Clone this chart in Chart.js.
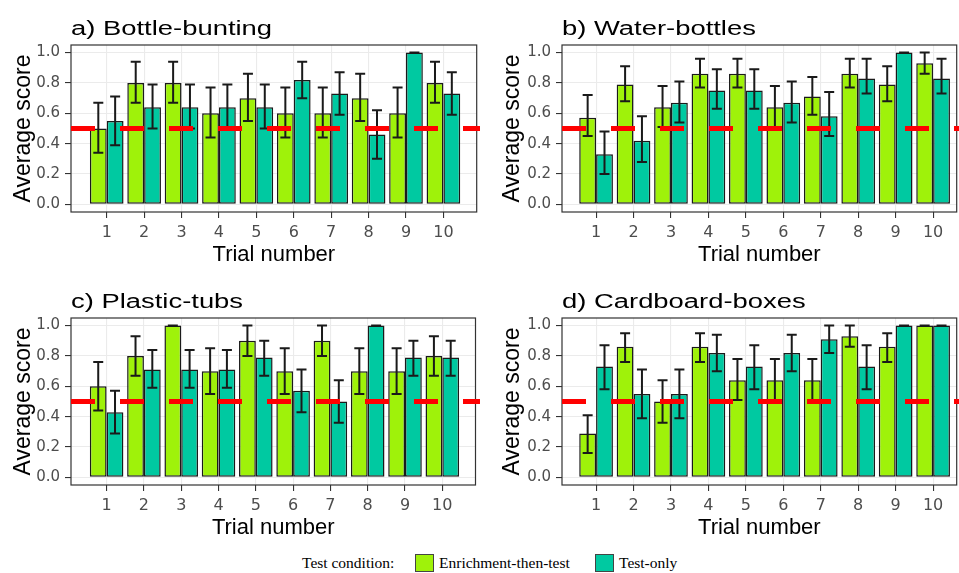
<!DOCTYPE html>
<html>
<head>
<meta charset="utf-8">
<script src="https://cdn.jsdelivr.net/npm/chart.js@4.4.1/dist/chart.umd.min.js"></script>
<style>
  html, body { margin: 0; padding: 0; background: #fff; }
  body { width: 959px; height: 573px; position: relative; overflow: hidden; }
  .panel { position: absolute; height: 270px; }
  .legend { position: absolute; top: 553px; font-family: "Liberation Serif", "Times New Roman", serif; font-size: 15.5px; color: #000; line-height: 19px; }
  .legend-key { position: absolute; top: 554px; width: 17px; height: 16px; border: 1px solid #444; }
</style>
</head>
<body>
  <div class="panel" style="left:0;top:0;width:480px"><canvas id="panel-a"></canvas></div>
  <div class="panel" style="left:480px;top:0;width:479px"><canvas id="panel-b"></canvas></div>
  <div class="panel" style="left:0;top:273px;width:480px"><canvas id="panel-c"></canvas></div>
  <div class="panel" style="left:480px;top:273px;width:479px"><canvas id="panel-d"></canvas></div>

  <span class="legend" style="left:302px">Test condition:</span>
  <span class="legend-key" id="key-enrich" style="left:415px"></span>
  <span class="legend" style="left:439px" id="label-enrich"></span>
  <span class="legend-key" id="key-test" style="left:595px"></span>
  <span class="legend" style="left:619px" id="label-test"></span>

<script>
// ======================================================
// DATA
// ======================================================
const TRIALS = [1, 2, 3, 4, 5, 6, 7, 8, 9, 10];
const Y_MAJOR = [0, 0.2, 0.4, 0.6, 0.8, 1.0];
const Y_MINOR = [0.1, 0.3, 0.5, 0.7, 0.9];
const CHANCE = 0.5;
const SERIES = ['Enrichment-then-test', 'Test-only'];

// a) Bottle-bunting
const bottleEnrich   = [0.50, 0.80, 0.80, 0.60, 0.70, 0.60, 0.60, 0.70, 0.60, 0.80];
const bottleEnrichLo = [0.34, 0.67, 0.67, 0.44, 0.55, 0.44, 0.44, 0.55, 0.44, 0.67];
const bottleEnrichHi = [0.67, 0.94, 0.94, 0.77, 0.86, 0.77, 0.77, 0.86, 0.77, 0.94];
const bottleTest     = [0.55, 0.64, 0.64, 0.64, 0.64, 0.82, 0.73, 0.46, 1.00, 0.73];
const bottleTestLo   = [0.39, 0.50, 0.50, 0.50, 0.50, 0.70, 0.59, 0.30, 1.00, 0.59];
const bottleTestHi   = [0.71, 0.79, 0.79, 0.79, 0.79, 0.94, 0.87, 0.62, 1.00, 0.87];

// b) Water-bottles
const waterEnrich   = [0.57, 0.79, 0.64, 0.86, 0.86, 0.64, 0.71, 0.86, 0.79, 0.93];
const waterEnrichLo = [0.45, 0.68, 0.51, 0.77, 0.77, 0.51, 0.59, 0.77, 0.68, 0.86];
const waterEnrichHi = [0.72, 0.91, 0.78, 0.96, 0.96, 0.78, 0.84, 0.96, 0.91, 1.00];
const waterTest     = [0.33, 0.42, 0.67, 0.75, 0.75, 0.67, 0.58, 0.83, 1.00, 0.83];
const waterTestLo   = [0.20, 0.28, 0.54, 0.63, 0.63, 0.54, 0.45, 0.73, 1.00, 0.73];
const waterTestHi   = [0.48, 0.58, 0.81, 0.89, 0.89, 0.81, 0.74, 0.96, 1.00, 0.96];

// c) Plastic-tubs
const tubsEnrich   = [0.60, 0.80, 1.00, 0.70, 0.90, 0.70, 0.90, 0.70, 0.70, 0.80];
const tubsEnrichLo = [0.44, 0.67, 1.00, 0.55, 0.80, 0.55, 0.80, 0.55, 0.55, 0.67];
const tubsEnrichHi = [0.76, 0.93, 1.00, 0.85, 1.00, 0.85, 1.00, 0.85, 0.85, 0.93];
const tubsTest     = [0.43, 0.71, 0.71, 0.71, 0.79, 0.57, 0.50, 1.00, 0.79, 0.79];
const tubsTestLo   = [0.29, 0.59, 0.59, 0.59, 0.67, 0.43, 0.36, 1.00, 0.67, 0.67];
const tubsTestHi   = [0.57, 0.84, 0.84, 0.84, 0.90, 0.71, 0.64, 1.00, 0.90, 0.90];

// d) Cardboard-boxes
const boxEnrich   = [0.29, 0.86, 0.50, 0.86, 0.64, 0.64, 0.64, 0.93, 0.86, 1.00];
const boxEnrichLo = [0.16, 0.76, 0.36, 0.76, 0.51, 0.51, 0.51, 0.86, 0.76, 1.00];
const boxEnrichHi = [0.41, 0.95, 0.64, 0.95, 0.78, 0.78, 0.78, 1.00, 0.95, 1.00];
const boxTest     = [0.73, 0.55, 0.55, 0.82, 0.73, 0.82, 0.91, 0.73, 1.00, 1.00];
const boxTestLo   = [0.58, 0.39, 0.39, 0.70, 0.58, 0.70, 0.82, 0.58, 1.00, 1.00];
const boxTestHi   = [0.87, 0.71, 0.71, 0.94, 0.87, 0.94, 1.00, 0.87, 1.00, 1.00];

// ======================================================
// STYLE
// ======================================================
const GREEN = '#9FF20A';
const TEAL = '#00C9A1';
const CAP = 5;

Chart.defaults.font.family = '"Liberation Sans", Arial, sans-serif';

const isMajor = v => Y_MAJOR.some(m => Math.abs(m - v) < 1e-6);

// error bars, panel border, dashed chance line, left-aligned panel title
const panelDecor = {
  id: 'panelDecor',
  afterDatasetsDraw(chart) {
    const { ctx, chartArea: a, scales: { y } } = chart;
    ctx.save();
    ctx.strokeStyle = '#1a1a1a';
    ctx.lineWidth = 2;
    chart.data.datasets.forEach((ds, d) => {
      chart.getDatasetMeta(d).data.forEach((bar, i) => {
        const top = y.getPixelForValue(ds.hi[i]);
        const bot = y.getPixelForValue(ds.lo[i]);
        ctx.beginPath();
        ctx.moveTo(bar.x, top); ctx.lineTo(bar.x, bot);
        ctx.moveTo(bar.x - CAP, top); ctx.lineTo(bar.x + CAP, top);
        ctx.moveTo(bar.x - CAP, bot); ctx.lineTo(bar.x + CAP, bot);
        ctx.stroke();
      });
    });
    ctx.strokeStyle = '#333';
    ctx.lineWidth = 1.2;
    ctx.strokeRect(a.left, a.top, a.right - a.left, a.bottom - a.top);

    const yc = y.getPixelForValue(CHANCE);
    ctx.strokeStyle = '#FF0000';
    ctx.lineWidth = 5;
    ctx.setLineDash([24, 25]);
    ctx.beginPath();
    ctx.moveTo(a.left, yc);
    ctx.lineTo(chart.width, yc);
    ctx.stroke();
    ctx.restore();
  },
  afterDraw(chart, args, opts) {
    const { ctx, chartArea: a } = chart;
    ctx.save();
    ctx.font = '20px "Liberation Sans", Arial, sans-serif';
    ctx.fillStyle = '#000';
    ctx.translate(a.left, a.top - 10);
    ctx.scale(1.37, 1);
    ctx.fillText(opts.title, 0, 0);
    ctx.restore();
  }
};

function makeChart(p) {
  const ctx = document.getElementById(p.id);
  const series = (values, lo, hi, label, color) => ({
    label,
    data: TRIALS.map((t, i) => ({ x: t, y: values[i] })),
    lo, hi,
    backgroundColor: color,
    borderColor: '#1a1a1a',
    borderWidth: 1.5,
    borderSkipped: false,
    categoryPercentage: 0.9,
    barPercentage: 1
  });

  return new Chart(ctx, {
    type: 'bar',
    data: {
      datasets: [
        series(p.enrich, p.enrichLo, p.enrichHi, SERIES[0], GREEN),
        series(p.test, p.testLo, p.testHi, SERIES[1], TEAL)
      ]
    },
    options: {
      responsive: true, maintainAspectRatio: false, animation: false,
      layout: { padding: { top: 45, left: p.padLeft, right: p.padRight, bottom: 0 } },
      plugins: {
        legend: { display: false },
        tooltip: { enabled: false },
        panelDecor: { title: p.title }
      },
      scales: {
        x: {
          type: 'linear', min: p.xMin, max: p.xMax, offset: false,
          afterBuildTicks: s => { s.ticks = TRIALS.map(v => ({ value: v })); },
          afterFit: s => { s.height = 58; },
          ticks: { autoSkip: false, maxRotation: 0, padding: 5, color: '#4D4D4D', font: { family: '"DejaVu Sans"', size: 16 } },
          grid: { offset: false, color: '#EBEBEB', lineWidth: 1.1, tickColor: '#333', tickLength: 6, tickWidth: 1.1 },
          border: { display: false },
          title: { display: true, text: 'Trial number', color: '#000', font: { size: 22 }, padding: { top: 0, bottom: 1.4 } }
        },
        y: {
          min: -0.05, max: 1.05,
          afterBuildTicks: s => { s.ticks = [...Y_MAJOR, ...Y_MINOR].sort((a, b) => a - b).map(v => ({ value: v })); },
          afterFit: s => { s.width = p.yWidth; },
          ticks: {
            padding: 5, color: '#4D4D4D', font: { family: '"DejaVu Sans"', size: 15 },
            callback: v => isMajor(v) ? v.toFixed(1) : ''
          },
          grid: {
            color: c => isMajor(c.tick.value) ? '#EBEBEB' : '#F4F4F4',
            lineWidth: c => isMajor(c.tick.value) ? 1.1 : 0.6,
            tickColor: c => isMajor(c.tick.value) ? '#333' : 'rgba(0,0,0,0)',
            tickLength: 6, tickWidth: 1.1
          },
          border: { display: false },
          title: { display: true, text: 'Average score', color: '#000', font: { size: 23 }, padding: { top: 9.5, bottom: 0 } }
        }
      }
    },
    plugins: [panelDecor]
  });
}

const panels = [
  { id: 'panel-a', title: 'a) Bottle-bunting', enrich: bottleEnrich, enrichLo: bottleEnrichLo, enrichHi: bottleEnrichHi,
    test: bottleTest, testLo: bottleTestLo, testHi: bottleTestHi, xMin: 0.045, xMax: 10.89, padLeft: 0, yWidth: 71, padRight: 3.3 },
  { id: 'panel-b', title: 'b) Water-bottles', enrich: waterEnrich, enrichLo: waterEnrichLo, enrichHi: waterEnrichHi,
    test: waterTest, testLo: waterTestLo, testHi: waterTestHi, xMin: 0.09, xMax: 10.63, padLeft: 9, yWidth: 73, padRight: 2.3 },
  { id: 'panel-c', title: 'c) Plastic-tubs', enrich: tubsEnrich, enrichLo: tubsEnrichLo, enrichHi: tubsEnrichHi,
    test: tubsTest, testLo: tubsTestLo, testHi: tubsTestHi, xMin: 0.045, xMax: 10.89, padLeft: 0, yWidth: 71, padRight: 4.5 },
  { id: 'panel-d', title: 'd) Cardboard-boxes', enrich: boxEnrich, enrichLo: boxEnrichLo, enrichHi: boxEnrichHi,
    test: boxTest, testLo: boxTestLo, testHi: boxTestHi, xMin: 0.09, xMax: 10.63, padLeft: 9, yWidth: 73, padRight: 2.3 }
];

panels.forEach(makeChart);

// legend
document.getElementById('key-enrich').style.background = GREEN;
document.getElementById('key-test').style.background = TEAL;
document.getElementById('label-enrich').textContent = SERIES[0];
document.getElementById('label-test').textContent = SERIES[1];
</script>
</body>
</html>
